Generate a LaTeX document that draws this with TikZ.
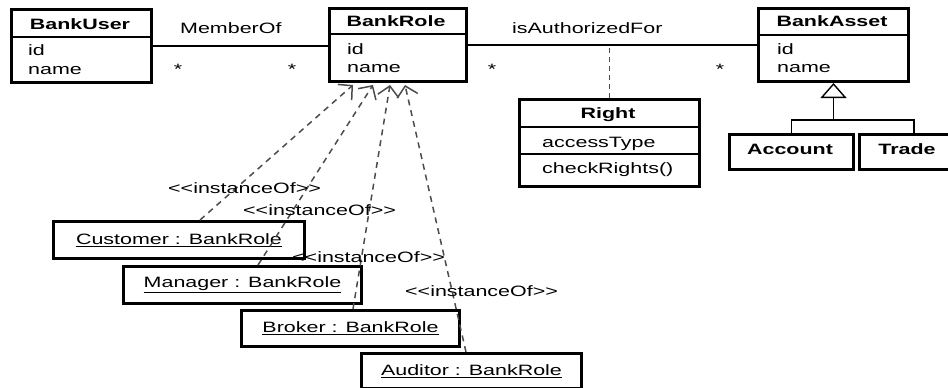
\documentclass[tikz,border=0pt]{standalone}
\usepackage{fontspec}
\setmainfont[FakeStretch=1.43]{Liberation Sans}
\usetikzlibrary{arrows.meta,calc}

\begin{document}
\begin{tikzpicture}[x=1pt,y=-1pt,
  every node/.style={inner sep=0pt, font=\fontsize{15}{18}\selectfont},
  classbox/.style={draw, line width=3pt, anchor=north west},
  instbox/.style={draw, line width=3pt, anchor=north west},
  hdr/.style={anchor=base, font=\fontsize{15}{18}\selectfont\bfseries},
  attr/.style={anchor=base west},
  lbl/.style={anchor=base west},
  mult/.style={anchor=base},
  divider/.style={line width=1.4pt},
  assoc/.style={line width=1.4pt},
  assocclass/.style={line width=1.5pt, black!70, dash pattern=on 5pt off 4pt},
  realize/.style={line width=1.5pt, black!70, dash pattern=on 6pt off 5pt,
    -{Straight Barb[length=10pt,width=21pt,line width=1.5pt]}},
  generalize/.style={line width=1.4pt,
    -{Triangle[open,length=15pt,width=26pt,line width=1.4pt]}}
]
\useasboundingbox (0,0) rectangle (948,388);

% ---------- classes ----------
\node[classbox, minimum width=140pt, minimum height=73pt] (user) at (10,8) {};
\draw[divider] ($(user.north west)+(0,29)$) -- ($(user.north east)+(0,29)$);
\node[hdr] (userT) at (80,29) {BankUser};
\node[attr] (userA) at (28,55) {id};
\node[attr] (userB) at (28,74) {name};

\node[classbox, minimum width=137pt, minimum height=73pt] (role) at (328,7) {};
\draw[divider] ($(role.north west)+(0,27)$) -- ($(role.north east)+(0,27)$);
\node[hdr] (roleT) at (396,27) {BankRole};
\node[attr] (roleA) at (347,54) {id};
\node[attr] (roleB) at (347,72) {name};

\node[classbox, minimum width=150pt, minimum height=73pt] (asset) at (757,7) {};
\draw[divider] ($(asset.north west)+(0,28)$) -- ($(asset.north east)+(0,28)$);
\node[hdr] (assetT) at (832,27) {BankAsset};
\node[attr] (assetA) at (777,54) {id};
\node[attr] (assetB) at (777,72) {name};

\node[classbox, minimum width=180pt, minimum height=87pt] (right) at (518,98) {};
\draw[divider] ($(right.north west)+(0,29)$) -- ($(right.north east)+(0,29)$);
\draw[divider] ($(right.north west)+(0,56)$) -- ($(right.north east)+(0,56)$);
\node[hdr] (rightT) at (608,118) {Right};
\node[attr] (rightA) at (542,147) {accessType};
\node[attr] (rightB) at (542,173) {checkRights()};

\node[classbox, minimum width=124pt, minimum height=35pt] (acc) at (728,133) {};
\node[hdr] (accT) at (790,154) {Account};
\node[classbox, minimum width=112pt, minimum height=35pt] (trade) at (858,133) {};
\node[hdr] (tradeT) at (907,154) {Trade};

% ---------- associations ----------
\draw[assoc] (user.east) -- (user.east -| role.west);
\node[lbl] (memberof) at (180,33) {MemberOf};
\node[mult] (m1) at (178,74) {*};
\node[mult] (m2) at (292,74) {*};

\draw[assoc] (role.east) -- (asset.west);
\node[lbl] (authfor) at (512,33) {isAuthorizedFor};
\node[mult] (m3) at (492,74) {*};
\node[mult] (m4) at (720,74) {*};
\draw[assocclass] (right.north) -- (right.north |- role.east);

% ---------- generalization ----------
\coordinate (gj) at ($(asset.south)+(0,37)$);
\coordinate (tradeJ) at ($(trade.north west)+(56,0)$);
\draw[assoc] (acc.north) |- (gj) -| (tradeJ);
\draw[generalize] (gj) -- (asset.south);

% ---------- instances ----------
\node[instbox, minimum width=251pt, minimum height=37pt] (cust) at (52,220) {\underline{Customer : BankRole}};
\node[instbox, minimum width=238pt, minimum height=37pt] (mgr) at (122,265) {\underline{Manager : BankRole}};
\node[instbox, minimum width=218pt, minimum height=36pt] (brk) at (240,309) {\underline{Broker : BankRole}};
\node[instbox, minimum width=220pt, minimum height=35pt] (aud) at (360,352) {\underline{Auditor : BankRole}};

\coordinate (t1) at ($(role.south west)+(25,2)$);
\coordinate (t2) at ($(role.south west)+(45,2)$);
\coordinate (t3) at ($(role.south west)+(62,2)$);
\coordinate (t4) at ($(role.south west)+(77,2)$);

\draw[realize] ($(cust.north west)+(148,0)$) -- (t1);
\draw[realize] ($(mgr.north west)+(136,0)$) -- (t2);
\draw[realize] ($(brk.north west)+(113,0)$) -- (t3);
\draw[realize] ($(aud.north west)+(106,0)$) -- (t4);

\node[lbl] (io1) at (168,193) {<{}<instanceOf>{}>};
\node[lbl] (io2) at (243,215) {<{}<instanceOf>{}>};
\node[lbl] (io3) at (292,262) {<{}<instanceOf>{}>};
\node[lbl] (io4) at (405,296) {<{}<instanceOf>{}>};
\end{tikzpicture}
\end{document}
